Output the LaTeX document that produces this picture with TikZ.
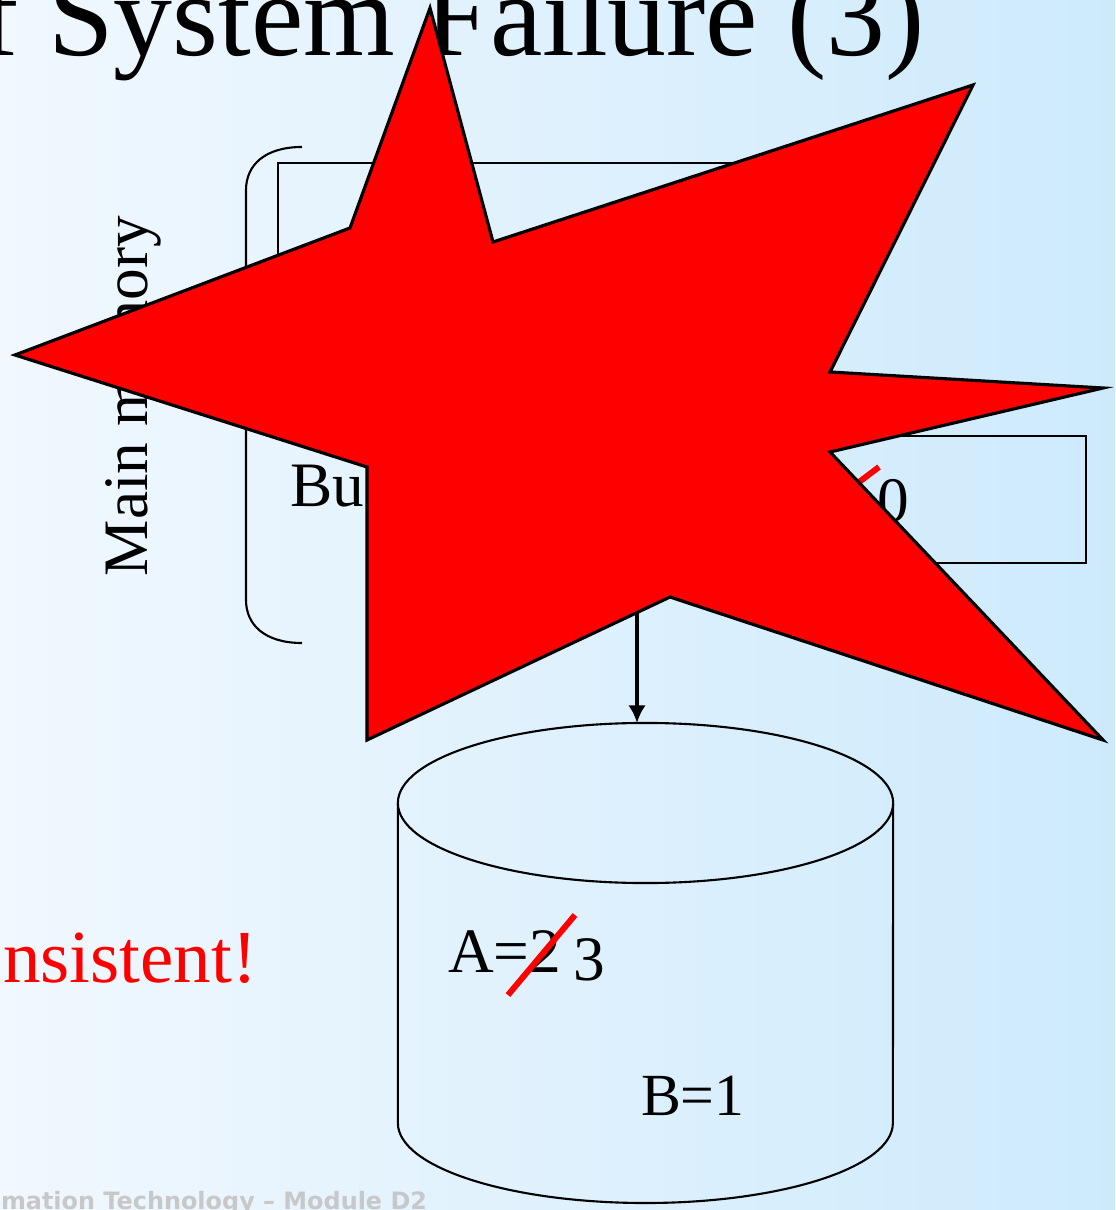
\documentclass[tikz,border=0pt]{standalone}
\usepackage{fontspec}
\setmainfont{Liberation Serif}
\newfontfamily\footfont{DejaVu Sans}
\usetikzlibrary{arrows.meta,shapes.geometric}
\definecolor{bgleft}{RGB}{241,248,254}
\definecolor{bgright}{RGB}{205,234,252}
\definecolor{footgray}{RGB}{200,200,200}
\tikzset{
  txt/.style={inner sep=0pt, outer sep=0pt, font=\fontsize{18}{20}\selectfont},
  box/.style={line width=0.6pt},
  strike/.style={red, line width=1.7pt},
}

\begin{document}
\begin{tikzpicture}[x=0.01cm,y=0.01cm]
\useasboundingbox (0,0) rectangle (1115,-1210);
\clip (0,0) rectangle (1115,-1210);
\shade[left color=bgleft, right color=bgright] (0,0) rectangle (1115,-1210);

\node[txt, anchor=base east, font=\fontsize{33.5}{36}\selectfont] (title) at (925,-56) {f System Failure (3)};
\node[txt, anchor=base, rotate=90] (mainmem) at (147,-396) {Main memory};

\draw[box] (302,-147) .. controls (265,-147) and (246,-165) .. (246,-190) -- (246,-600)
  .. controls (246,-625) and (265,-643) .. (302,-643);
\draw[box] (278,-163) rectangle (780,-400);
\draw[box] (700,-436) rectangle (1086,-563);
\node[txt, anchor=base west] (buf) at (290,-507) {Bu};
\node[txt, anchor=base west] (bufB) at (877,-522) {0};
\draw[strike] (838,-498) -- (879,-467);

\node[txt, anchor=base east, red, font=\fontsize{21.3}{24}\selectfont] (incons) at (257,-982) {nsistent!};

\node[ellipse, draw, line width=0.6pt, minimum width=4.95cm, minimum height=1.6cm, inner sep=0pt, outer sep=0pt] (dbtop) at (645.5,-803) {};
\draw[box] (dbtop.west) -- ++(0,-320) arc[start angle=180, end angle=360, x radius=247.5, y radius=80] -- (dbtop.east);
\node[txt, anchor=base west] (dbA) at (448,-972) {A=2};
\node[txt, anchor=base west] (dbA3) at (573,-980) {3};
\node[txt, anchor=base west, font=\fontsize{17}{19}\selectfont] (dbB) at (641,-1115) {B=1};
\draw[strike] (508,-995) -- (575,-915);

\coordinate (bufout) at (637,-590);
\draw[-{Latex[length=5pt,width=5pt]}, line width=1.1pt] (bufout) -- (bufout |- dbtop.north);

\node[txt, anchor=base east, font=\footfont\bfseries\fontsize{6.8}{8}\selectfont, text=footgray] (foot) at (427,-1209) {mation Technology – Module D2};

\draw[fill=red, line width=0.9pt] (430,-8) -- (493,-242) -- (973,-85) -- (830,-372) -- (1103,-388)
  -- (830,-452) -- (1103,-740) -- (670,-597) -- (367,-740) -- (367,-467) -- (15,-355) -- (350,-228) -- cycle;
\end{tikzpicture}
\end{document}
